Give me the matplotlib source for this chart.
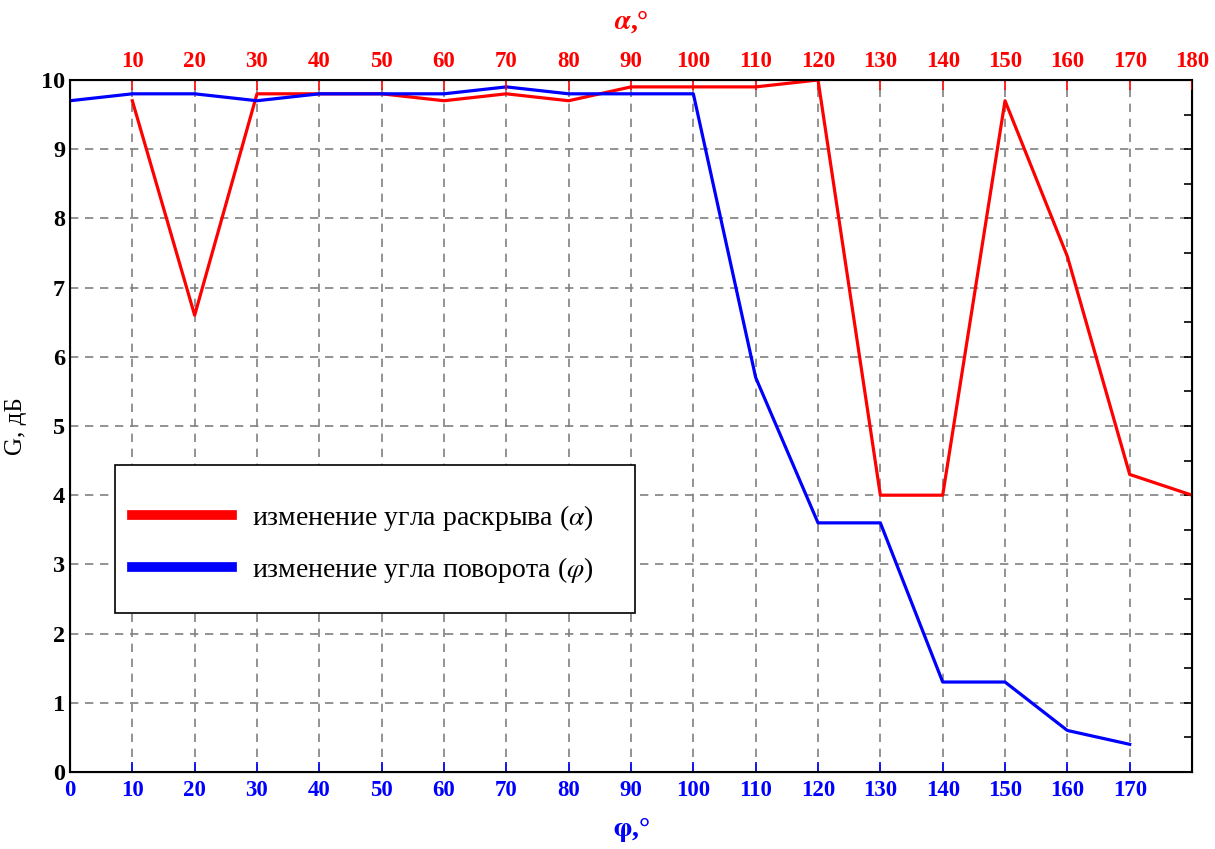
import numpy as np
import matplotlib.pyplot as plt
from matplotlib.ticker import MultipleLocator
from matplotlib.patches import Rectangle

# Opening angle alpha (red) and rotation angle phi (blue)
alpha = [10, 20, 30, 40, 50, 60, 70, 80, 90, 100, 110, 120, 130, 140, 150, 160, 170, 180]
g_alpha = [9.7, 6.6, 9.8, 9.8, 9.8, 9.7, 9.8, 9.7, 9.9, 9.9, 9.9, 10.0, 4.0, 4.0, 9.7, 7.45, 4.3, 4.0]

phi = [0, 10, 20, 30, 40, 50, 60, 70, 80, 90, 100, 110, 120, 130, 140, 150, 160, 170]
g_phi = [9.7, 9.8, 9.8, 9.7, 9.8, 9.8, 9.8, 9.9, 9.8, 9.8, 9.8, 5.7, 3.6, 3.6, 1.3, 1.3, 0.6, 0.4]

bottom_ticks = list(range(0, 180, 10))
top_ticks = list(range(10, 190, 10))

plt.rcParams['font.family'] = ['Liberation Serif', 'DejaVu Serif']
plt.rcParams['mathtext.fontset'] = 'stix'

fig = plt.figure(figsize=(12.15, 8.49), dpi=100)
ax = fig.add_axes([0.0576, 0.0907, 0.9235, 0.8151])

ax.plot(alpha, g_alpha, color='#ff0000', lw=2.3, label='изменение угла раскрыва ($\\alpha$)')
ax.plot(phi, g_phi, color='#0000ff', lw=2.3, label='изменение угла поворота ($\\varphi$)')

ax.set_xlim(0, 180)
ax.set_ylim(0, 10)
ax.grid(True, ls=(0, (5, 4)), color='#808080', lw=1.2)

ax.set_xticks(bottom_ticks)
ax.set_xticklabels([str(t) for t in bottom_ticks], color='#0000ff', fontweight='bold', fontsize=16.5)
ax.tick_params(axis='x', direction='in', color='#0000ff', length=7, width=1.2, pad=6)

ax.set_yticks(range(0, 11))
ax.yaxis.set_minor_locator(MultipleLocator(0.5))
ax.set_yticklabels([str(t) for t in range(0, 11)], fontweight='bold', fontsize=17.5)
ax.tick_params(axis='y', which='both', direction='in', left=False, right=True, length=6, width=1.2)

for s in ax.spines.values():
    s.set_linewidth(1.5)

ax2 = ax.twiny()
ax2.set_xlim(0, 180)
ax2.set_xticks(top_ticks)
ax2.set_xticklabels([str(t) for t in top_ticks], color='#ff0000', fontweight='bold', fontsize=16.5)
ax2.tick_params(axis='x', direction='in', color='#ff0000', length=7, width=1.2, pad=6)

ax.set_xlabel('$\\boldsymbol{\\varphi}$,°', color='#0000ff', fontsize=20, fontweight='bold', labelpad=10)
ax2.set_xlabel('$\\boldsymbol{\\alpha}$,°', color='#ff0000', fontsize=20, fontweight='bold', labelpad=16)
ax.set_ylabel('G, дБ', fontsize=18, labelpad=10)

# legend frame drawn separately so the horizontal and vertical padding can differ
ax.add_patch(Rectangle((0.0401, 0.2298), 0.4635, 0.2138, transform=ax.transAxes,
                       facecolor='white', edgecolor='black', lw=1.2, zorder=4))
leg = ax.legend(loc='center left', bbox_to_anchor=(0.0445, 0.3300), fontsize=20, frameon=False,
                handlelength=3.6, handletextpad=0.7, borderpad=0.45, labelspacing=0.8,
                borderaxespad=0)
leg.set_zorder(5)
for line in leg.get_lines():
    line.set_linewidth(7)

fig.savefig('out.png', dpi=100)
